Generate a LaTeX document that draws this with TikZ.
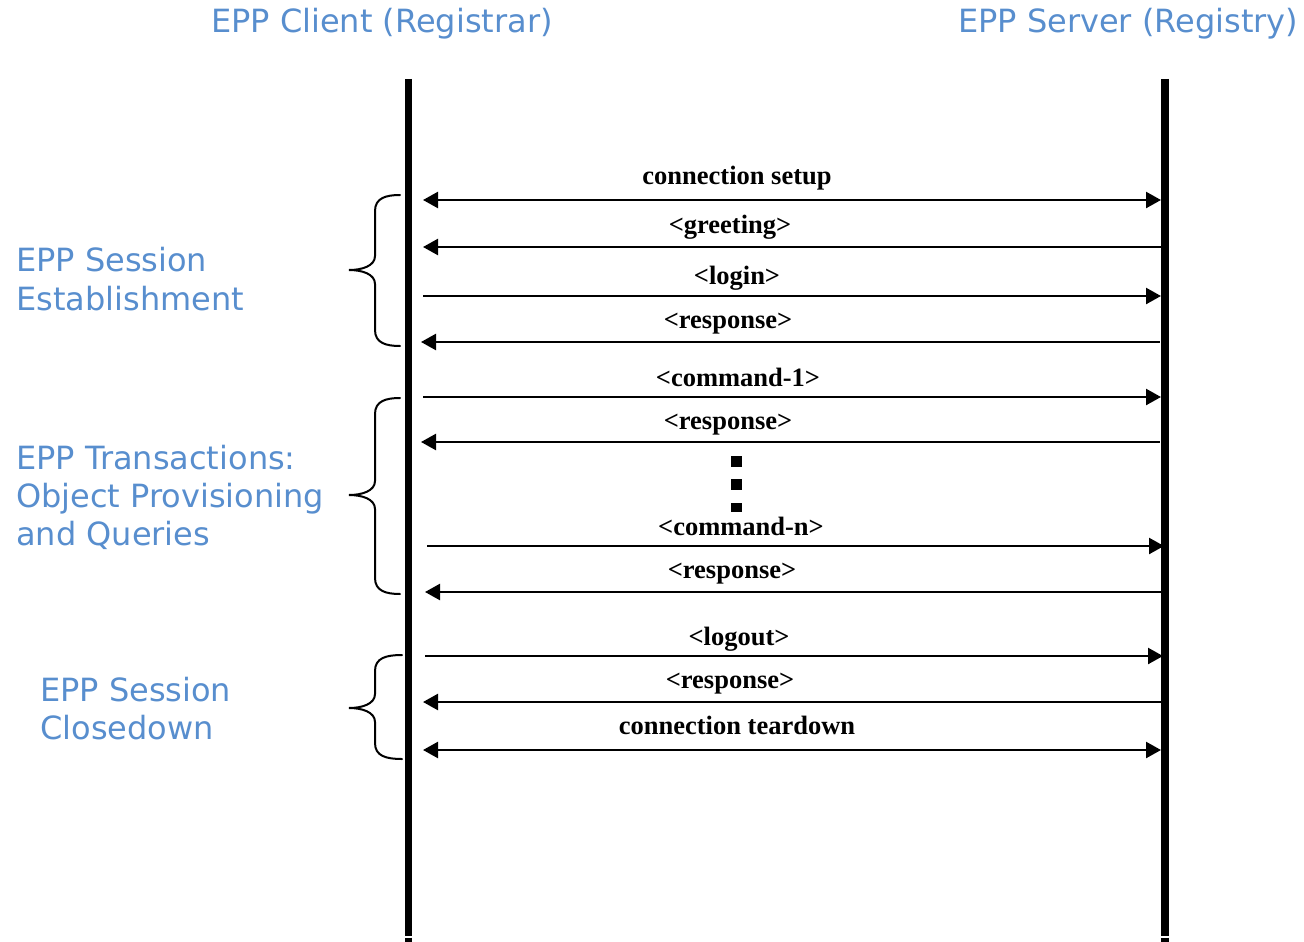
\documentclass[tikz,border=0pt]{standalone}
\usepackage{fontspec}
\usetikzlibrary{arrows.meta}
\newfontfamily\bluefont{DejaVu Sans}
\newfontfamily\msgfont{Liberation Serif}
\definecolor{eppblue}{RGB}{88,142,206}
\tikzset{
  lifeline/.style={line width=7.5pt},
  msg/.style={line width=2.4pt},
  toright/.style={msg,-{Triangle[length=15pt,width=16pt]}},
  toleft/.style={msg,{Triangle[length=15pt,width=16pt]}-},
  tboth/.style={msg,{Triangle[length=15pt,width=16pt]}-{Triangle[length=15pt,width=16pt]}},
  msglabel/.style={anchor=base,inner sep=0pt,font=\msgfont\bfseries\fontsize{26.5}{30}\selectfont},
  bluelabel/.style={anchor=base west,inner sep=0pt,text=eppblue,font=\bluefont\fontsize{32}{38}\selectfont},
  bracestyle/.style={line width=2pt,line cap=round},
  dotsq/.style={fill=black,inner sep=0pt,minimum size=11pt,draw=none}
}
\begin{document}
\begin{tikzpicture}[x=1pt,y=-1pt]
\useasboundingbox (0,0) rectangle (1304,942);
% headers
\node[bluelabel] (hclient) at (211,33) {EPP Client (Registrar)};
\node[bluelabel] (hserver) at (958,33) {EPP Server (Registry)};
% lifelines
\coordinate (lt) at (408.5,79);
\coordinate (lb) at (408.5,935.5);
\coordinate (lt2) at (408.5,937.5);
\coordinate (lb2) at (408.5,942);
\coordinate (rt) at (1165,79);
\coordinate (rb) at (1165,935.5);
\coordinate (rt2) at (1165,937.5);
\coordinate (rb2) at (1165,942);
\draw[lifeline] (lt) -- (lb);
\draw[lifeline] (lt2) -- (lb2);
\draw[lifeline] (rt) -- (rb);
\draw[lifeline] (rt2) -- (rb2);
% messages
\foreach \n/\y/\lx/\rx/\st in {
  1/200/423/1161/tboth, 2/247/423/1161/toleft, 3/296/423/1161/toright,
  4/342/421/1160/toleft, 5/397/423/1161/toright, 6/442/421/1160/toleft,
  8/546/427/1164/toright, 9/592/425/1163/toleft, 10/656/425/1163/toright,
  11/702/423/1163/toleft, 12/750/423/1161/tboth}{
  \coordinate (m\n l) at (\lx,\y);
  \coordinate (m\n r) at (\rx,\y);
  \draw[\st] (m\n l) -- (m\n r);
}
\node[msglabel] (t1) at (737,184) {connection setup};
\node[msglabel] (t2) at (730,233) {<greeting>};
\node[msglabel] (t3) at (737,284) {<login>};
\node[msglabel] (t4) at (728,328) {<response>};
\node[msglabel] (t5) at (738,386) {<command-1>};
\node[msglabel] (t6) at (728,429) {<response>};
\node[msglabel] (t8) at (741,535) {<command-n>};
\node[msglabel] (t9) at (732,578) {<response>};
\node[msglabel] (t10) at (739,645) {<logout>};
\node[msglabel] (t11) at (730,688) {<response>};
\node[msglabel] (t12) at (737,734) {connection teardown};
% dots
\node[dotsq] (d1) at (736,461) {};
\node[dotsq] (d2) at (736,484.5) {};
\node[dotsq,minimum height=9pt] (d3) at (736,507) {};
% braces
\foreach \top/\tip/\bot/\ex in {195/270/346/400, 398/495/594/400, 655/708/759/402}{
  \draw[bracestyle] (\ex,\top) .. controls (386,\top) and (375,\top+3) .. (375,\top+16)
    -- (375,\tip-14) .. controls (375,\tip-4) and (362,\tip) .. (349,\tip)
    .. controls (362,\tip) and (375,\tip+4) .. (375,\tip+14)
    -- (375,\bot-16) .. controls (375,\bot-3) and (386,\bot) .. (\ex,\bot);
}
% side labels
\node[bluelabel] (s1a) at (16,271) {EPP Session};
\node[bluelabel] (s1b) at (16,310) {Establishment};
\node[bluelabel] (s2a) at (16,469) {EPP Transactions:};
\node[bluelabel] (s2b) at (16,507) {Object Provisioning};
\node[bluelabel] (s2c) at (16,545) {and Queries};
\node[bluelabel] (s3a) at (40,701) {EPP Session};
\node[bluelabel] (s3b) at (40,739) {Closedown};
\end{tikzpicture}
\end{document}
